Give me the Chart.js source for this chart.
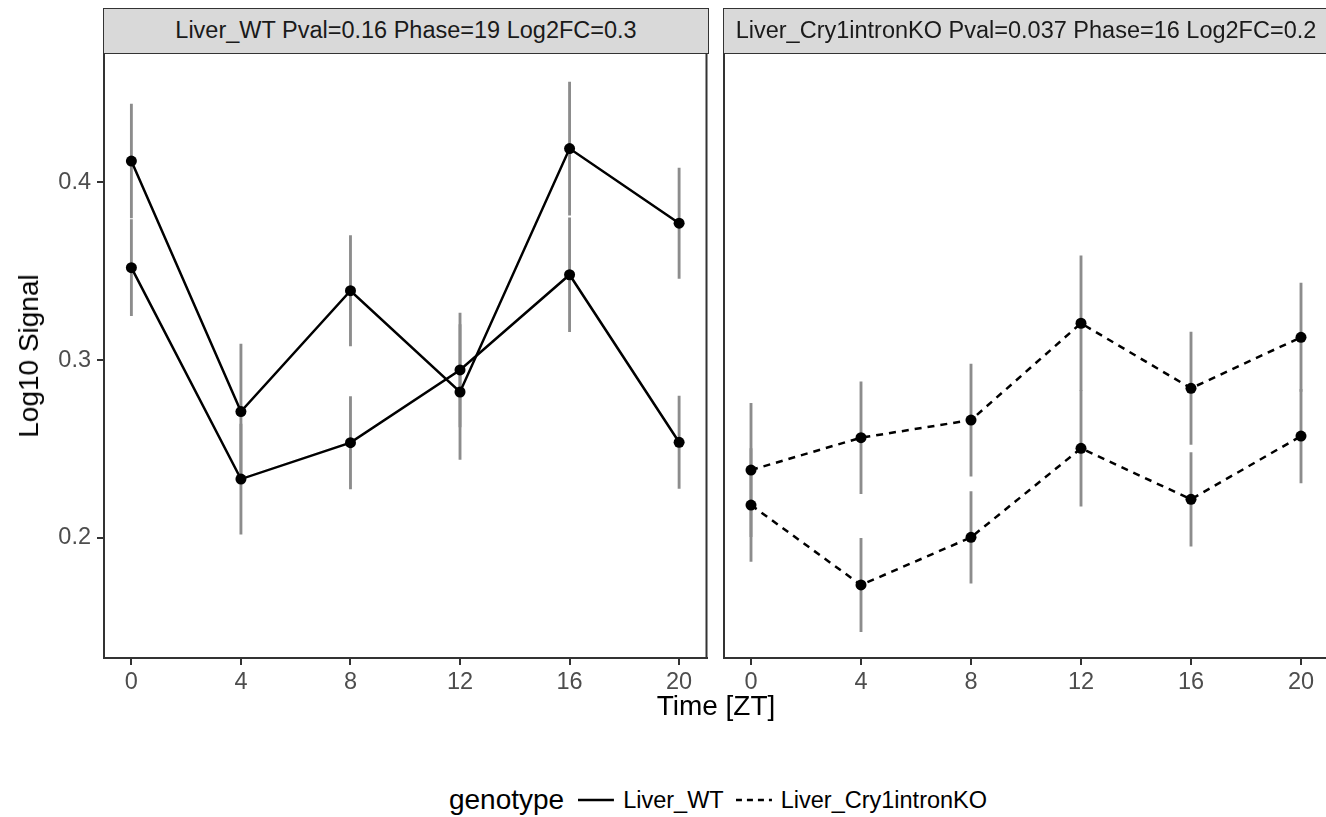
<!DOCTYPE html>
<html><head><meta charset="utf-8">
<script src="https://cdn.jsdelivr.net/npm/chart.js@4.4.1/dist/chart.umd.min.js"></script>
<style>
html,body{margin:0;padding:0;background:#fff;width:1326px;height:817px;overflow:hidden;position:relative;font-family:"Liberation Sans",Arial,sans-serif;}
canvas{position:absolute;top:0;}
.strip{position:absolute;top:8px;height:46px;width:606px;box-sizing:border-box;background:#d9d9d9;border:1.5px solid #333;color:#1a1a1a;font-size:23.5px;line-height:43px;text-align:center;white-space:nowrap;overflow:hidden;}
.ttl{position:absolute;color:#000;font-size:28px;line-height:1;white-space:nowrap;transform:translate(-50%,-50%);}
#legend{position:absolute;left:718px;top:800px;transform:translate(-50%,-50%);display:flex;align-items:center;white-space:nowrap;color:#000;}
#legend .t{font-size:28px;}
#legend .l{font-size:23.5px;}
</style></head>
<body>
<canvas id="c1" width="712" height="760" style="left:0px;width:712px;height:760px"></canvas>
<canvas id="c2" width="624" height="760" style="left:712px;width:624px;height:760px"></canvas>
<div class="strip" id="s1" style="left:103px"></div>
<div class="strip" id="s2" style="left:723px"></div>
<div class="ttl" id="ytitle" style="left:29px;top:355.5px;transform:translate(-50%,-50%) rotate(-90deg)"></div>
<div class="ttl" id="xtitle" style="left:716px;top:706px"></div>
<div id="legend">
  <span class="t" id="legTitle"></span>
  <svg width="36" height="20" style="margin-left:14px"><line x1="0" y1="10" x2="36" y2="10" stroke="#000" stroke-width="2.5"/></svg>
  <span class="l" id="leg1" style="margin-left:9px"></span>
  <svg width="36" height="20" style="margin-left:12px"><line x1="0" y1="10" x2="36" y2="10" stroke="#000" stroke-width="2.5" stroke-dasharray="6 5"/></svg>
  <span class="l" id="leg2" style="margin-left:9px"></span>
</div>
<script>
// ---------- data ----------
const timeZT = [0, 4, 8, 12, 16, 20];
const xTicks = [0, 4, 8, 12, 16, 20];
const yTicks = [0.2, 0.3, 0.4];
const genotypes = ["Liver_WT", "Liver_Cry1intronKO"];
const panelTitles = ["Liver_WT Pval=0.16 Phase=19 Log2FC=0.3", "Liver_Cry1intronKO Pval=0.037 Phase=16 Log2FC=0.2"];

// Liver_WT panel
const wtSeriesA = [0.412, 0.271, 0.339, 0.282, 0.419, 0.377];
const wtSeriesA_se = [0.032, 0.038, 0.031, 0.038, 0.0375, 0.031];
const wtSeriesB = [0.352, 0.233, 0.2535, 0.2944, 0.348, 0.2537];
const wtSeriesB_se = [0.027, 0.031, 0.026, 0.032, 0.032, 0.026];

// Liver_Cry1intronKO panel
const koSeriesA = [0.2381, 0.2563, 0.2662, 0.3207, 0.2841, 0.3128];
const koSeriesA_se = [0.0375, 0.0315, 0.0315, 0.038, 0.0316, 0.0305];
const koSeriesB = [0.2184, 0.1734, 0.2002, 0.2503, 0.2216, 0.2572];
const koSeriesB_se = [0.0318, 0.0263, 0.0258, 0.0325, 0.0263, 0.0263];

const yMin = 0.1323, yMax = 0.4728, xMin = -1, xMax = 21;

// ---------- text ----------
document.getElementById('s1').textContent = panelTitles[0];
document.getElementById('s2').textContent = panelTitles[1];
document.getElementById('ytitle').textContent = 'Log10 Signal';
document.getElementById('xtitle').textContent = 'Time [ZT]';
document.getElementById('legTitle').textContent = 'genotype';
document.getElementById('leg1').textContent = genotypes[0];
document.getElementById('leg2').textContent = genotypes[1];

// ---------- chart helpers ----------
const FONT = "'Liberation Sans', Arial, sans-serif";
const AXIS_COL = '#333333';
const ERR_COL = '#8c8c8c';

function lineDS(vals, dash) {
  return {
    type: 'line', order: 0,
    data: timeZT.map((t, i) => ({x: t, y: vals[i]})),
    borderColor: '#000', borderWidth: 2.5, borderDash: dash,
    pointRadius: 5.5, pointHoverRadius: 5.5, pointBackgroundColor: '#000', pointBorderWidth: 0,
    tension: 0, fill: false
  };
}
function errDS(vals, se) {
  return {
    type: 'bar', order: 1, grouped: false,
    data: timeZT.map((t, i) => ({x: t, y: [vals[i] - se[i], vals[i] + se[i]]})),
    backgroundColor: ERR_COL, borderWidth: 0, barThickness: 2.2
  };
}

const rightBorder = {
  id: 'rightBorder',
  afterDraw(chart, args, opts) {
    if (!opts.show) return;
    const a = chart.chartArea, ctx = chart.ctx;
    ctx.save();
    ctx.strokeStyle = AXIS_COL; ctx.lineWidth = 2;
    ctx.beginPath(); ctx.moveTo(a.right, a.top); ctx.lineTo(a.right, a.bottom + 1); ctx.stroke();
    ctx.restore();
  }
};

function makePanel(id, datasets, cfg) {
  return new Chart(document.getElementById(id), {
    type: 'line',
    data: {datasets},
    plugins: [rightBorder],
    options: {
      responsive: false, animation: false, devicePixelRatio: 1,
      layout: {padding: {top: 53, right: cfg.padRight, left: 0, bottom: 0}},
      plugins: {legend: {display: false}, tooltip: {enabled: false}, rightBorder: {show: cfg.rightBorder}},
      scales: {
        x: {
          type: 'linear', min: xMin, max: xMax, offset: false, bounds: 'data',
          afterBuildTicks: s => { s.ticks = xTicks.map(v => ({value: v})); },
          afterFit: s => { s.height = 760 - 658; },
          ticks: {font: {family: FONT, size: 23.5}, color: '#4d4d4d', padding: 3, maxRotation: 0, autoSkip: false},
          grid: {offset: false, drawOnChartArea: false, drawTicks: true, tickLength: 7, color: AXIS_COL, lineWidth: 2},
          border: {display: true, color: AXIS_COL, width: 2}
        },
        y: {
          type: 'linear', min: yMin, max: yMax, bounds: 'data', beginAtZero: false,
          afterBuildTicks: s => { s.ticks = yTicks.map(v => ({value: v})); },
          afterFit: s => { s.width = cfg.yWidth; },
          ticks: {display: cfg.showY, font: {family: FONT, size: 23.5}, color: '#4d4d4d', padding: 6,
                  callback: v => Number(v).toFixed(1)},
          grid: {display: cfg.showY, drawOnChartArea: false, drawTicks: true, tickLength: 7, color: AXIS_COL, lineWidth: 2},
          border: {display: true, color: AXIS_COL, width: 2}
        }
      }
    }
  });
}

makePanel('c1', [
  lineDS(wtSeriesA, []), lineDS(wtSeriesB, []),
  errDS(wtSeriesA, wtSeriesA_se), errDS(wtSeriesB, wtSeriesB_se)
], {padRight: 3.5, yWidth: 104, showY: true, rightBorder: true});

makePanel('c2', [
  lineDS(koSeriesA, [7, 6]), lineDS(koSeriesB, [7, 6]),
  errDS(koSeriesA, koSeriesA_se), errDS(koSeriesB, koSeriesB_se)
], {padRight: 7.5, yWidth: 11.5, showY: false, rightBorder: false});
</script>
</body></html>
